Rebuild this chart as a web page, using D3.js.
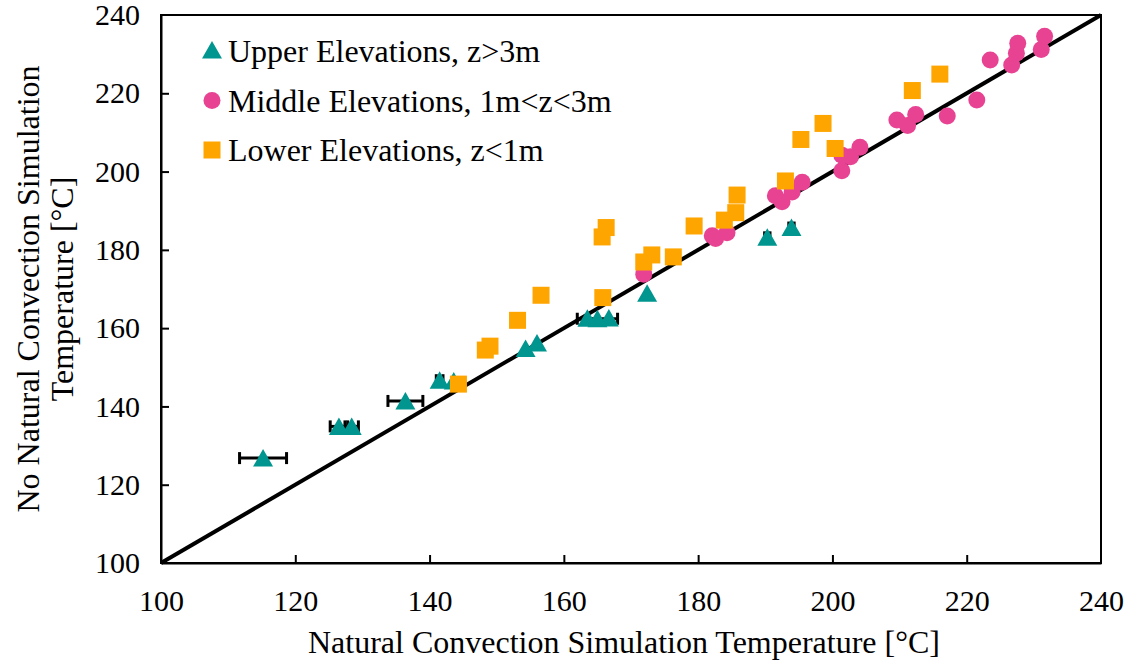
<!DOCTYPE html>
<html>
<head>
<meta charset="utf-8">
<script src="https://cdn.jsdelivr.net/npm/d3@7"></script>
<style>
  body { margin: 0; background: #fff; }
</style>
</head>
<body>
<div id="chart"></div>
<script>
// x: natural convection sim temp, y: no natural convection sim temp
var upperX = [115.2, 126.5, 128.4, 136.4, 141.5, 143.6, 154.3, 156.0, 163.5, 165.0, 166.7, 172.4, 190.3, 193.9];
var upperY = [126.8, 134.9, 134.9, 141.4, 146.7, 146.5, 154.8, 156.2, 162.5, 162.4, 162.6, 168.9, 183.2, 185.7];
var upperErr = [3.5, 1.3, 1.0, 2.6, 0.5, 0, 0, 0, 0, 3.0, 0, 0, 0.4, 0.4];

var middleX = [171.9, 182.1, 182.6, 184.3, 191.5, 192.5, 194.0, 195.5, 201.4, 201.4, 202.7, 204.1,
  209.6, 211.2, 212.4, 217.1, 221.5, 223.5, 226.7, 227.4, 227.6, 231.1, 231.6];
var middleY = [173.8, 183.6, 182.9, 184.4, 193.8, 192.3, 194.8, 197.3, 200.2, 204.2, 203.8, 206.2,
  213.2, 211.8, 214.6, 214.2, 218.3, 228.5, 227.2, 230.2, 232.8, 231.2, 234.6];

var lowerX = [144.3, 148.3, 149.0, 153.1, 156.6, 165.7, 166.3, 165.8, 171.9, 173.1, 176.3, 179.4,
  183.9, 185.6, 185.8, 193.0, 195.3, 198.6, 200.4, 211.9, 216.0];
var lowerY = [145.7, 154.4, 155.4, 162.0, 168.4, 183.3, 185.7, 167.8, 176.9, 178.7, 178.2, 186.1,
  187.6, 189.5, 194.0, 197.6, 208.2, 212.3, 205.9, 220.7, 224.9];

var tickValues = [100, 120, 140, 160, 180, 200, 220, 240];
var legendLabels = ["Upper Elevations, z>3m", "Middle Elevations, 1m<z<3m", "Lower Elevations, z<1m"];

var colors = { upper: "#00968f", middle: "#e84393", lower: "#ffa500" };
var serif = "Liberation Serif, DejaVu Serif, serif";
var fs = "32px", tickFs = "30px";

var W = 1135, H = 665;
var margin = { top: 15, right: 34, bottom: 102, left: 161 },
  width = W - margin.left - margin.right,
  height = H - margin.top - margin.bottom;

var svg = d3.select("#chart").append("svg")
  .attr("width", W)
  .attr("height", H)
  .style("font-family", serif)
  .append("g")
  .attr("transform", "translate(" + margin.left + "," + margin.top + ")");

var x = d3.scaleLinear().domain([100, 240]).range([0, width]);
var y = d3.scaleLinear().domain([100, 240]).range([height, 0]);

// axes, ticks pointing inward
var xAxis = svg.append("g")
  .attr("transform", "translate(0," + height + ")")
  .call(d3.axisBottom(x).tickValues(tickValues).tickSize(-8).tickPadding(27).tickSizeOuter(0));
xAxis.attr("font-family", null).attr("font-size", null);
xAxis.selectAll("text").attr("fill", "#000").style("font-size", tickFs);

var yAxis = svg.append("g")
  .call(d3.axisLeft(y).tickValues(tickValues).tickSize(-8).tickPadding(21).tickSizeOuter(0));
yAxis.attr("font-family", null).attr("font-size", null);
yAxis.selectAll("text").attr("fill", "#000").style("font-size", tickFs);

svg.selectAll(".domain, .tick line").attr("stroke", "#000").attr("stroke-width", 2);
// hide end ticks
svg.selectAll(".tick line").filter(function (d) { return d === 100 || d === 240; }).remove();

// frame
svg.append("rect")
  .attr("x", 0).attr("y", 0)
  .attr("width", width).attr("height", height)
  .attr("fill", "none").attr("stroke", "#000").attr("stroke-width", 2);

// 1:1 line
svg.append("line")
  .attr("x1", x(100)).attr("y1", y(100))
  .attr("x2", x(240)).attr("y2", y(240))
  .attr("stroke", "#000").attr("stroke-width", 4);

var upper = upperX.map(function (v, i) { return { x: v, y: upperY[i], e: upperErr[i] }; });
var middle = middleX.map(function (v, i) { return { x: v, y: middleY[i] }; });
var lower = lowerX.map(function (v, i) { return { x: v, y: lowerY[i] }; });

// error bars
var eb = svg.append("g").selectAll("g")
  .data(upper.filter(function (d) { return d.e > 0; }))
  .enter().append("g")
  .attr("stroke", "#000").attr("stroke-width", 3);
eb.append("line")
  .attr("x1", function (d) { return x(d.x - d.e); })
  .attr("x2", function (d) { return x(d.x + d.e); })
  .attr("y1", function (d) { return y(d.y); })
  .attr("y2", function (d) { return y(d.y); });
eb.append("line")
  .attr("x1", function (d) { return x(d.x - d.e); })
  .attr("x2", function (d) { return x(d.x - d.e); })
  .attr("y1", function (d) { return y(d.y) - 6; })
  .attr("y2", function (d) { return y(d.y) + 6; });
eb.append("line")
  .attr("x1", function (d) { return x(d.x + d.e); })
  .attr("x2", function (d) { return x(d.x + d.e); })
  .attr("y1", function (d) { return y(d.y) - 6; })
  .attr("y2", function (d) { return y(d.y) + 6; });

function triPath(cx, cy) {
  return "M" + cx + "," + (cy - 9) + "L" + (cx + 10) + "," + (cy + 8.5) + "L" + (cx - 10) + "," + (cy + 8.5) + "Z";
}

svg.append("g").selectAll("circle")
  .data(middle).enter().append("circle")
  .attr("cx", function (d) { return x(d.x); })
  .attr("cy", function (d) { return y(d.y); })
  .attr("r", 8.5)
  .attr("fill", colors.middle);

svg.append("g").selectAll("path")
  .data(upper).enter().append("path")
  .attr("d", function (d) { return triPath(x(d.x), y(d.y)); })
  .attr("fill", colors.upper);

svg.append("g").selectAll("rect")
  .data(lower).enter().append("rect")
  .attr("x", function (d) { return x(d.x) - 8.5; })
  .attr("y", function (d) { return y(d.y) - 8.5; })
  .attr("width", 17).attr("height", 17)
  .attr("fill", colors.lower);

// legend
var legend = svg.append("g").attr("transform", "translate(51,36)");
var rows = legend.selectAll("g").data(legendLabels).enter().append("g")
  .attr("transform", function (d, i) { return "translate(0," + (i * 49.5) + ")"; });
rows.each(function (d, i) {
  var g = d3.select(this);
  if (i === 0) g.append("path").attr("d", triPath(0, -1)).attr("fill", colors.upper);
  if (i === 1) g.append("circle").attr("r", 8.5).attr("fill", colors.middle);
  if (i === 2) g.append("rect").attr("x", -8.5).attr("y", -8.5).attr("width", 17).attr("height", 17).attr("fill", colors.lower);
  g.append("text").attr("x", 16).attr("dy", "0.35em")
    .style("font-size", fs).text(d);
});

// axis titles
svg.append("text")
  .attr("x", width / 2 - 7)
  .attr("y", height + 90)
  .attr("text-anchor", "middle")
  .style("font-size", fs)
  .text("Natural Convection Simulation Temperature [°C]");

var yt = svg.append("text")
  .attr("transform", "translate(-122," + (height / 2) + ") rotate(-90)")
  .attr("text-anchor", "middle")
  .style("font-size", fs);
yt.append("tspan").attr("x", 0).attr("dy", 0).text("No Natural Convection Simulation");
yt.append("tspan").attr("x", 0).attr("dy", "1.05em").text("Temperature [°C]");
</script>
</body>
</html>
